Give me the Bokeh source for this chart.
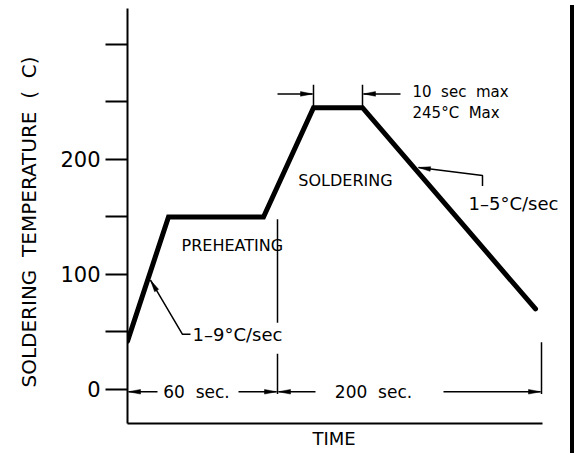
import math
from bokeh.plotting import figure
from bokeh.models import Range1d, LinearAxis, FixedTicker, Title, Div
from bokeh.layouts import row
from bokeh.embed import file_html
from bokeh.resources import INLINE
from bokeh.core.properties import value

# ---------------- data ----------------
# schematic time axis (drawing units, not to scale) and temperature in °C
profile_t = [0, 41, 136, 186, 235, 408]
profile_temp = [42, 150, 150, 245, 245, 70]

y_ticks = [0, 50, 100, 150, 200, 250, 300]
y_tick_text = {0: "0", 100: "100", 200: "200"}

t_axis_end = 415          # end of time axis
t_preheat_end = 150       # end of 60 s preheat dimension
t_total_end = 414         # end of 200 s dimension
t_peak_start = 186
t_peak_end = 235

dim_y_bottom = -2         # level of the time dimension lines
dim_y_top = 257           # level of the peak-dwell dimension

label_60 = "60\u00a0\u00a0sec."
label_200 = "200\u00a0\u00a0sec."
label_dwell = "10\u00a0\u00a0sec\u00a0\u00a0max"
label_peak = "245°C\u00a0\u00a0Max"
label_ramp_up = "1–9°C/sec"
label_ramp_down = "1–5°C/sec"
label_preheat = "PREHEATING"
label_solder = "SOLDERING"
y_title = "SOLDERING\u00a0\u00a0TEMPERATURE\u00a0\u00a0(\u00a0\u00a0C)"
x_title = "TIME"

FONT = "DejaVu Sans"

# ---------------- figure ----------------
W, H = 565, 453
LEFT, TOP, BOTTOM = 127, 8, 30
X0, X1 = 0, W - LEFT
PX_PER_Y = 1.15
FRAME_H = H - TOP - BOTTOM
Y0 = -29.6
Y1 = Y0 + FRAME_H / PX_PER_Y

p = figure(width=W, height=H, output_backend="svg", toolbar_location=None,
           x_range=Range1d(X0, X1), y_range=Range1d(Y0, Y1),
           x_axis_location=None, y_axis_location=None,
           min_border_left=LEFT, min_border_right=0, min_border_top=TOP,
           min_border_bottom=BOTTOM)
p.grid.grid_line_color = None
p.outline_line_color = None
p.background_fill_color = "white"
p.border_fill_color = "white"

yaxis = LinearAxis(ticker=FixedTicker(ticks=y_ticks),
                   major_label_overrides={t: y_tick_text.get(t, "") for t in y_ticks})
yaxis.axis_line_width = 2
yaxis.axis_line_color = "black"
yaxis.major_tick_line_width = 2
yaxis.major_tick_line_color = "black"
yaxis.major_tick_out = 22
yaxis.major_tick_in = 0
yaxis.minor_tick_out = 0
yaxis.minor_tick_in = 0
yaxis.major_label_standoff = 5
yaxis.major_label_text_font = FONT
yaxis.major_label_text_font_size = "21px"
yaxis.major_label_text_color = "black"
p.add_layout(yaxis, "left")

xaxis = LinearAxis(ticker=FixedTicker(ticks=[]), bounds=(0, t_axis_end))
xaxis.axis_line_width = 2
xaxis.axis_line_color = "black"
xaxis.major_tick_out = 0
xaxis.major_tick_in = 0
xaxis.minor_tick_out = 0
xaxis.minor_tick_in = 0
p.add_layout(xaxis, "below")

# axis titles as side titles, so they can be offset along their axis
ytitle = Title(text=y_title, align="left", offset=36, standoff=30,
               vertical_align="top",
               text_font=FONT, text_font_size="20px", text_font_style="normal",
               text_color="black")
p.add_layout(ytitle, "left")
xtitle = Title(text=x_title, align="left", offset=185, standoff=5,
               vertical_align="bottom",
               text_font=FONT, text_font_size="18px", text_font_style="normal",
               text_color="black")
p.add_layout(xtitle, "below")

# ---------------- reflow profile ----------------
p.line(profile_t, profile_temp, line_width=5, line_color="black",
       line_join="miter", line_cap="round")

# ---------------- helpers ----------------
def head(tail, tip, length=12, half=2.3):
    dx = (tip[0] - tail[0])
    dy = (tip[1] - tail[1]) * PX_PER_Y
    n = math.hypot(dx, dy)
    ux, uy = dx / n, dy / n
    bx = tip[0] * 1.0 - ux * length
    by = tip[1] * PX_PER_Y - uy * length
    px, py = -uy, ux
    xs = [tip[0], bx + px * half, bx - px * half]
    ys = [tip[1], (by + py * half) / PX_PER_Y, (by - py * half) / PX_PER_Y]
    return xs, ys

# dimension arrows (tail, tip)
arrows = [
    ((t_preheat_end * 0.2, dim_y_bottom), (1, dim_y_bottom)),
    ((t_preheat_end * 0.74, dim_y_bottom), (t_preheat_end - 1, dim_y_bottom)),
    ((t_preheat_end + 38, dim_y_bottom), (t_preheat_end + 1, dim_y_bottom)),
    ((t_total_end - 98, dim_y_bottom), (t_total_end - 1, dim_y_bottom)),
    ((t_peak_start - 36, dim_y_top), (t_peak_start - 1, dim_y_top)),
    ((t_peak_end + 38, dim_y_top), (t_peak_end + 1, dim_y_top)),
]
p.segment([a[0][0] for a in arrows], [a[0][1] for a in arrows],
          [a[1][0] for a in arrows], [a[1][1] for a in arrows],
          line_color="black", line_width=1.5)

# leaders to the ramp slopes
leader_up = [(63, 48), (55, 48), (23, 95)]
leader_down = [(355, 177), (355, 186), (291, 193)]
p.multi_line([[q[0] for q in leader_up], [q[0] for q in leader_down]],
             [[q[1] for q in leader_up], [q[1] for q in leader_down]],
             line_color="black", line_width=1.5)

heads = [head(a[0], a[1]) for a in arrows]
heads.append(head(leader_up[1], leader_up[2]))
heads.append(head(leader_down[1], leader_down[2]))
p.patches([h[0] for h in heads], [h[1] for h in heads],
          fill_color="black", line_color="black", line_width=0.5)

# extension lines
ext_x0 = [t_preheat_end, t_preheat_end, t_total_end, t_peak_start, t_peak_end]
ext_y0 = [148, 31, 41, 245, 245]
ext_y1 = [58, -4, -4, 265, 265]
p.segment(ext_x0, ext_y0, ext_x0, ext_y1, line_color="black", line_width=1.5)

# ---------------- texts ----------------
def txt(x, y, s, size, align="left"):
    p.text([x], [y], text=[s], text_font=value(FONT), text_font_size=size,
           text_color="black", text_align=align, text_baseline="middle")

txt(69, dim_y_bottom, label_60, "17px", "center")
txt(246, dim_y_bottom, label_200, "17px", "center")
txt(285, 259, label_dwell, "15px")
txt(285, 240, label_peak, "15px")
txt(65, 48, label_ramp_up, "18px")
txt(341, 162, label_ramp_down, "18px")
txt(54, 125, label_preheat, "16px")
txt(218, 182, label_solder, "16px", "center")

bar = Div(width=5, height=H, styles={"background-color": "black"})
layout = row(p, bar)

open("out.html", "w").write(file_html(layout, INLINE))
